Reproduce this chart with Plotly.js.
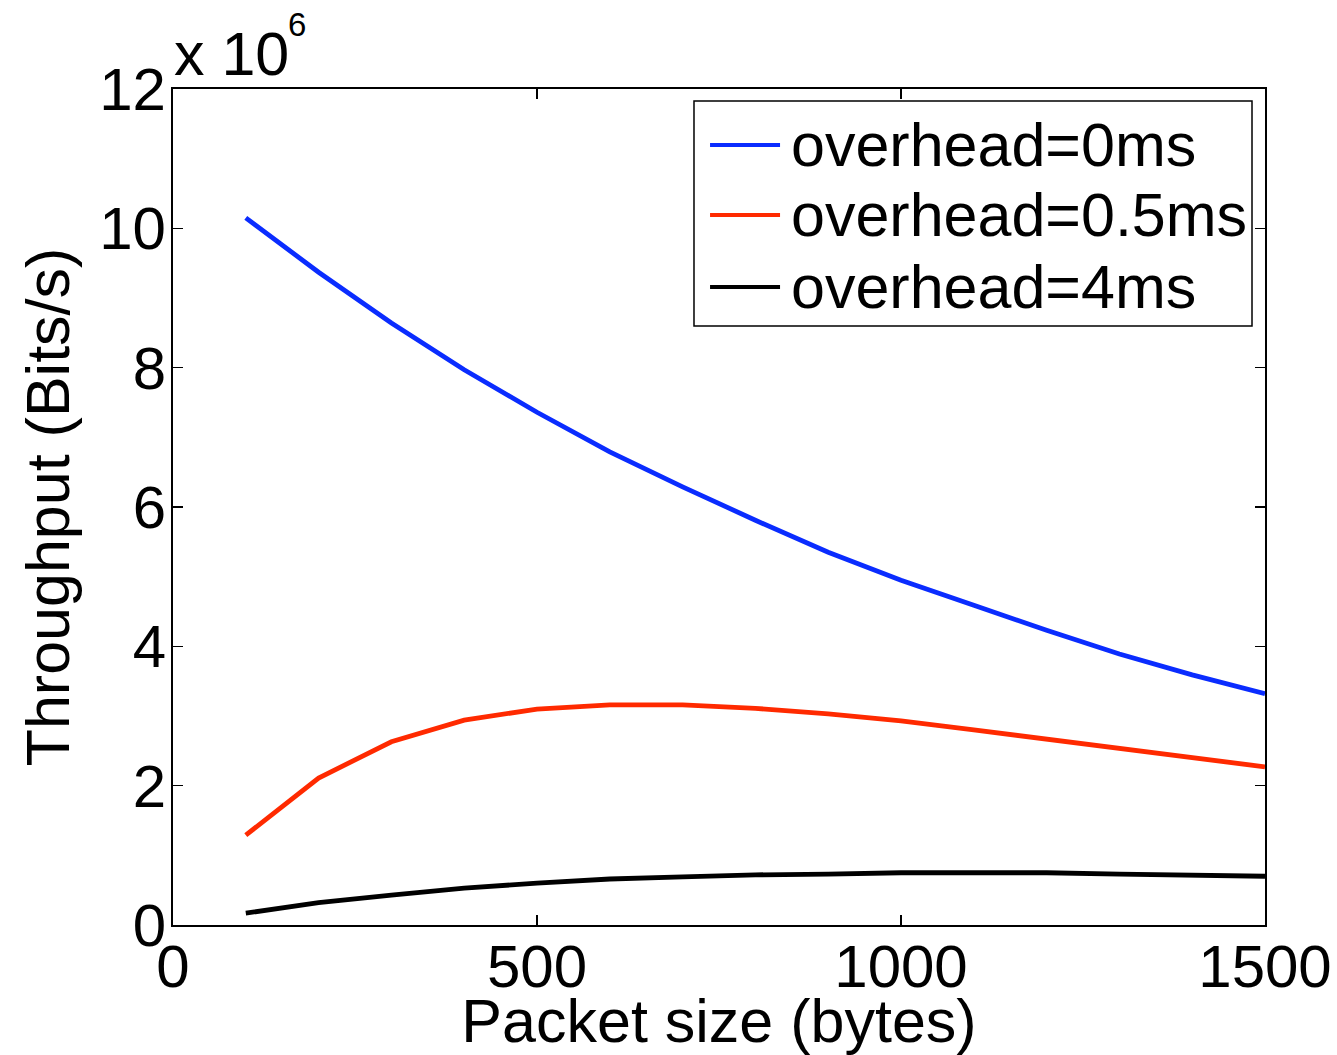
<!DOCTYPE html>
<html>
<head>
<meta charset="utf-8">
<script src="https://cdn.plot.ly/plotly-3.0.1.min.js"></script>
<style>html,body{margin:0;padding:0;background:#fff;}#chart{width:1337px;height:1055px;}</style>
</head>
<body>
<div id="chart"></div>
<script>
const packetSize = [100,200,300,400,500,600,700,800,900,1000,1100,1200,1300,1400,1500];
const overhead0 = [10.15,9.37,8.64,7.97,7.36,6.79,6.29,5.81,5.35,4.95,4.59,4.23,3.89,3.59,3.32];
const overhead05 = [1.29,2.11,2.63,2.94,3.10,3.16,3.16,3.11,3.03,2.93,2.80,2.67,2.54,2.40,2.27];
const overhead4 = [0.17,0.32,0.43,0.53,0.60,0.66,0.69,0.72,0.73,0.75,0.75,0.75,0.73,0.72,0.70];
const seriesNames = ['overhead=0ms','overhead=0.5ms','overhead=4ms'];
const seriesColors = ['#0a2cff','#ff2a00','#000000'];
const yTickVals = [0,2,4,6,8,10,12];
const xTickVals = [0,500,1000,1500];
const SCALE = 1e6;

const font = 'Liberation Sans, Arial, Helvetica, sans-serif';
const allY = [overhead0, overhead05, overhead4];
const data = allY.map((y, i) => ({
  x: packetSize, y: y.map(v => v*SCALE), name: seriesNames[i], type: 'scatter', mode: 'lines',
  line: {color: seriesColors[i], width: 4.8}, showlegend: false
}));

// custom legend (paper coordinates) to mimic the long MATLAB legend lines
const legRows = [0.933, 0.8493, 0.7632];
const shapes = [{
  type: 'rect', xref: 'paper', yref: 'paper', x0: 0.4771, x1: 0.9881, y0: 0.7165, y1: 0.9856,
  line: {color: '#000', width: 1.5}, fillcolor: '#fff', layer: 'above'
}];
const annotations = [];
seriesNames.forEach((n, i) => {
  shapes.push({type: 'line', xref: 'paper', yref: 'paper', x0: 0.4918, x1: 0.5559,
    y0: legRows[i], y1: legRows[i], line: {color: seriesColors[i], width: 4}, layer: 'above'});
  annotations.push({xref: 'paper', yref: 'paper', x: 0.5650, y: legRows[i], xanchor: 'left', yanchor: 'middle',
    text: n, showarrow: false, font: {size: 61}, borderpad: 0});
});
annotations.push({xref: 'paper', yref: 'paper', x: 0.0, y: 1, xanchor: 'left', yanchor: 'bottom',
  text: 'x 10', showarrow: false, font: {size: 61}, borderpad: 0});
annotations.push({xref: 'paper', yref: 'paper', x: 0.1045, y: 1.1, xanchor: 'left', yanchor: 'top',
  text: '6', showarrow: false, font: {size: 33}, borderpad: 0});

const layout = {
  width: 1337, height: 1055,
  margin: {l: 173, r: 72, t: 89, b: 130},
  paper_bgcolor: '#fff', plot_bgcolor: '#fff',
  font: {family: font, size: 60, color: '#000'},
  showlegend: false,
  xaxis: {
    range: [0,1500], tickvals: xTickVals, ticktext: xTickVals.map(String),
    ticks: 'inside', ticklen: 10, tickwidth: 1.5, tickcolor: '#000',
    showline: true, linewidth: 2, linecolor: '#000', mirror: 'ticks',
    showgrid: false, zeroline: false,
    tickfont: {size: 60}, ticklabelstandoff: -12,
    title: {text: 'Packet size (bytes)', font: {size: 61}, standoff: 0}
  },
  yaxis: {
    range: [0,12*SCALE], tickvals: yTickVals.map(v => v*SCALE), ticktext: yTickVals.map(String),
    ticks: 'inside', ticklen: 10, tickwidth: 1.5, tickcolor: '#000',
    showline: true, linewidth: 2, linecolor: '#000', mirror: 'ticks',
    showgrid: false, zeroline: false,
    tickfont: {size: 60}, ticklabelstandoff: -7,
    title: {text: 'Throughput (Bits/s)', font: {size: 61}, standoff: 10}
  },
  shapes: shapes,
  annotations: annotations
};
Plotly.newPlot('chart', data, layout, {staticPlot: true});
</script>
</body>
</html>
